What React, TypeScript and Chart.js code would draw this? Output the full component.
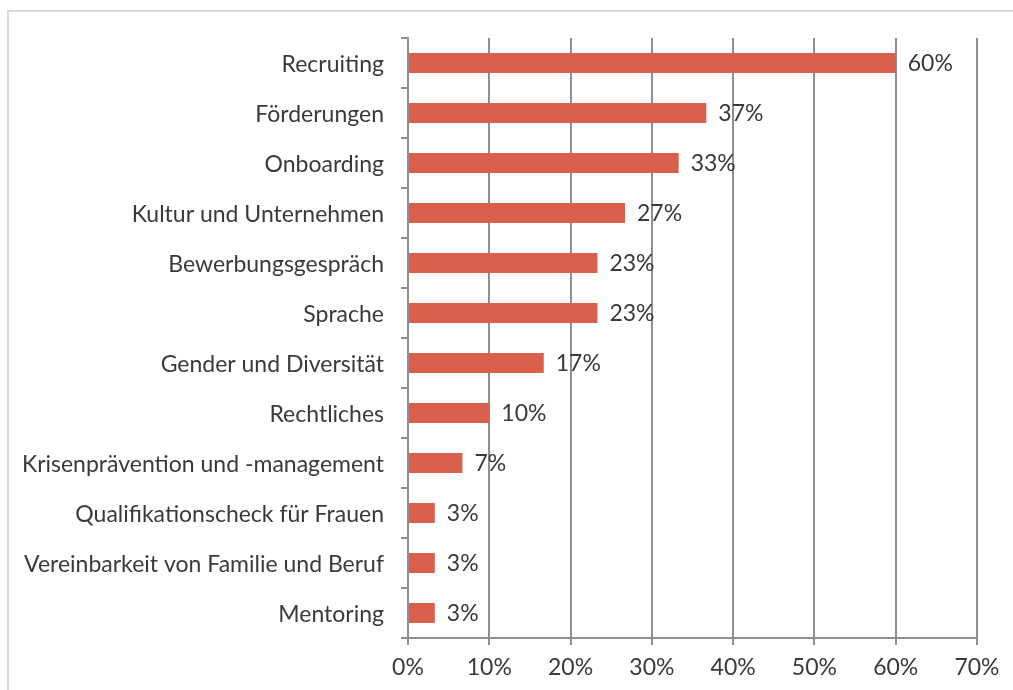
import React, { useEffect, useRef } from "react";
import { Chart, registerables } from "chart.js";

Chart.register(...registerables);

const categories = [
  "Recruiting",
  "Förderungen",
  "Onboarding",
  "Kultur und Unternehmen",
  "Bewerbungsgespräch",
  "Sprache",
  "Gender und Diversität",
  "Rechtliches",
  "Krisenprävention und -management",
  "Qualifikationscheck für Frauen",
  "Vereinbarkeit von Familie und Beruf",
  "Mentoring",
];

const values = [60, 36.7, 33.3, 26.7, 23.3, 23.3, 16.7, 10, 6.7, 3.3, 3.3, 3.3];
const valueLabels = ["60%", "37%", "33%", "27%", "23%", "23%", "17%", "10%", "7%", "3%", "3%", "3%"];
const xTicks = [0, 10, 20, 30, 40, 50, 60, 70];

const FONT = "Lato, 'Open Sans', sans-serif";
const FONT_SIZE = 23;
const TEXT = "#3a3a3a";
const GRID = "#8f8f8f";

const labelPlugin = {
  id: "barLabels",
  afterDatasetsDraw(chart: any) {
    const ctx = chart.ctx;
    const meta = chart.getDatasetMeta(0);
    ctx.save();
    ctx.font = `${FONT_SIZE}px ${FONT}`;
    ctx.fillStyle = TEXT;
    ctx.textAlign = "left";
    ctx.textBaseline = "middle";
    meta.data.forEach((bar: any, i: number) => {
      ctx.fillText(valueLabels[i], bar.x + 12, bar.y + 1);
    });
    ctx.restore();
  },
};

export default function App() {
  const ref = useRef<HTMLCanvasElement | null>(null);
  useEffect(() => {
    if (!ref.current) return;
    const chart = new Chart(ref.current, {
      type: "bar",
      data: {
        labels: categories,
        datasets: [
          {
            data: values,
            backgroundColor: "#D9604C",
            barPercentage: 0.4,
            categoryPercentage: 1,
          },
        ],
      },
      options: {
        indexAxis: "y",
        animation: false,
        responsive: false,
        maintainAspectRatio: false,
        layout: { padding: { left: 0, right: 36, top: 38, bottom: 0 } },
        plugins: { legend: { display: false }, tooltip: { enabled: false } },
        scales: {
          x: {
            min: 0,
            max: 70,
            afterFit: (s: any) => {
              s.height = 52;
            },
            afterBuildTicks: (s: any) => {
              s.ticks = xTicks.map((v) => ({ value: v }));
            },
            ticks: {
              callback: (v: any) => `${v}%`,
              color: TEXT,
              font: { family: FONT, size: FONT_SIZE },
              padding: 9,
              maxRotation: 0,
            },
            grid: { color: GRID, lineWidth: 2, drawTicks: true, tickLength: 7 },
            border: { color: GRID, width: 2 },
          },
          y: {
            afterFit: (s: any) => {
              s.width = 408;
            },
            ticks: {
              color: TEXT,
              font: { family: FONT, size: FONT_SIZE },
              padding: 17,
              labelOffset: 2,
              autoSkip: false,
            },
            grid: {
              color: GRID,
              lineWidth: 2,
              drawOnChartArea: false,
              drawTicks: true,
              tickLength: 7,
              offset: true,
            },
            border: { color: GRID, width: 2 },
          },
        },
      },
      plugins: [labelPlugin],
    });
    return () => chart.destroy();
  }, []);
  return (
    <div style={{ position: "fixed", left: 0, top: 0, width: 1013, height: 690, background: "#fff", overflow: "hidden" }}>
      <div
        style={{
          position: "absolute",
          left: 7,
          top: 10,
          width: 1100,
          height: 800,
          borderLeft: "2px solid #d9d9d9",
          borderTop: "2px solid #d9d9d9",
        }}
      />
      <canvas ref={ref} width={1013} height={690} style={{ position: "absolute", left: 0, top: 0 }} />
    </div>
  );
}
